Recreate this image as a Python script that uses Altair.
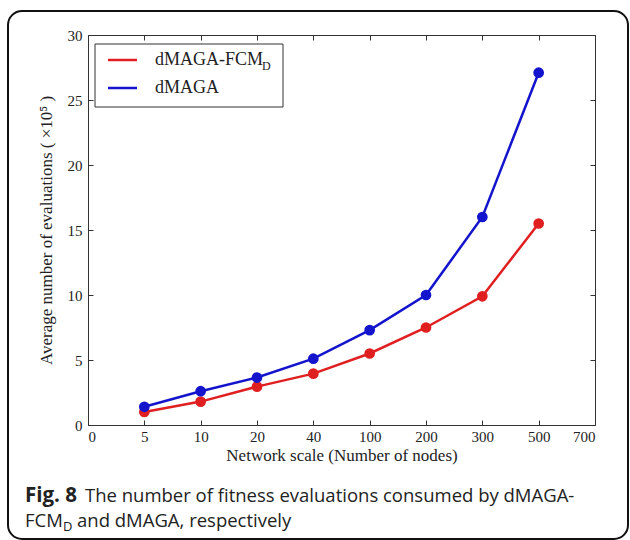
import altair as alt
import pandas as pd

x_labels = ["0", "5", "10", "20", "40", "100", "200", "300", "500", "700"]
x_idx = [1, 2, 3, 4, 5, 6, 7, 8]
fcm_vals = [1.0, 1.8, 2.95, 3.95, 5.5, 7.5, 9.9, 15.5]
dmaga_vals = [1.4, 2.6, 3.65, 5.1, 7.3, 10.0, 16.0, 27.1]
series_names = ["dMAGA-FCM_D", "dMAGA"]
series_colors = ["#e02020", "#1414cc"]
y_ticks = [0, 5, 10, 15, 20, 25, 30]

rows = []
for name, vals in zip(series_names, [fcm_vals, dmaga_vals]):
    for i, v in zip(x_idx, vals):
        rows.append({"series": name, "idx": i, "value": v})
df = pd.DataFrame(rows)

SERIF = "Liberation Serif"
SANS = "Open Sans"
W, H = 507, 390

label_expr = "[" + ",".join("'" + s + "'" for s in x_labels) + "][datum.value]"

xs = alt.Scale(domain=[0, 9], nice=False)
ys = alt.Scale(domain=[0, 30], nice=False)
cs = alt.Scale(domain=series_names, range=series_colors)


def x_axis():
    return alt.Axis(values=list(range(10)), labelExpr=label_expr,
                    title="Network scale (Number of nodes)", offset=-5, tickSize=5,
                    domain=False, grid=False, labelFont=SERIF, labelFontSize=15,
                    labelColor="#222", titleFont=SERIF, titleFontSize=17,
                    titleFontWeight="normal", titleColor="#222", labelPadding=4,
                    titlePadding=3, tickColor="#333")


def y_axis():
    return alt.Axis(values=y_ticks, title="Average number of evaluations ( \u00d710\u2075 )",
                    offset=-5, tickSize=5, domain=False, grid=False, labelFont=SERIF,
                    labelFontSize=15, labelColor="#222", titleFont=SERIF, titleFontSize=17,
                    titleFontWeight="normal", titleColor="#222", labelPadding=6,
                    titlePadding=12, tickColor="#333")


base = alt.Chart(df)
lines = base.mark_line(strokeWidth=2.5).encode(
    x=alt.X("idx:Q", scale=xs, axis=x_axis()),
    y=alt.Y("value:Q", scale=ys, axis=y_axis()),
    color=alt.Color("series:N", scale=cs, legend=None),
    detail="series:N",
)
pts = base.mark_circle(size=115, opacity=1).encode(
    x=alt.X("idx:Q", scale=xs, axis=x_axis()),
    y=alt.Y("value:Q", scale=ys, axis=y_axis()),
    color=alt.Color("series:N", scale=cs, legend=None),
)
data_layer = alt.layer(lines, pts)

mirror = base.mark_point(opacity=0).encode(
    x=alt.X("idx:Q", scale=xs, axis=alt.Axis(orient="top", values=list(range(10)),
            labels=False, title=None, offset=-5, tickSize=5, domain=False, grid=False,
            tickColor="#333")),
    y=alt.Y("value:Q", scale=ys, axis=alt.Axis(orient="right", values=y_ticks,
            labels=False, title=None, offset=-5, tickSize=5, domain=False, grid=False,
            tickColor="#333")),
)

one = alt.Chart(pd.DataFrame({"a": [0]}))

# legend box (plot origin at 88,35)
leg_box = one.mark_rect(fill="white", stroke="#333", strokeWidth=1).encode(
    x=alt.value(7), x2=alt.value(195), y=alt.value(9), y2=alt.value(72))
leg_red = one.mark_rule(color=series_colors[0], strokeWidth=2.5).encode(
    x=alt.value(20), x2=alt.value(49), y=alt.value(25))
leg_blue = one.mark_rule(color=series_colors[1], strokeWidth=2.5).encode(
    x=alt.value(20), x2=alt.value(49), y=alt.value(53))
leg_t1 = one.mark_text(align="left", baseline="middle", font=SERIF, fontSize=18,
                       color="#222").encode(x=alt.value(67), y=alt.value(25),
                                            text=alt.value("dMAGA-FCM"))
leg_t1s = one.mark_text(align="left", baseline="middle", font=SERIF, fontSize=12,
                        color="#222").encode(x=alt.value(174), y=alt.value(31),
                                             text=alt.value("D"))
leg_t2 = one.mark_text(align="left", baseline="middle", font=SERIF, fontSize=18,
                       color="#222").encode(x=alt.value(67), y=alt.value(53),
                                            text=alt.value("dMAGA"))

# caption frame and text
frame = one.mark_rect(fill="transparent", stroke="#111", strokeWidth=2,
                      cornerRadius=14).encode(
    x=alt.value(-80), x2=alt.value(540), y=alt.value(-24), y2=alt.value(504))
cap_b = one.mark_text(align="left", baseline="alphabetic", font=SANS, fontSize=20.5,
                      fontWeight="bold", color="#222").encode(
    x=alt.value(-63), y=alt.value(467), text=alt.value("Fig. 8"))
cap_1 = one.mark_text(align="left", baseline="alphabetic", font=SANS, fontSize=18.5,
                      color="#222").encode(
    x=alt.value(-3), y=alt.value(467),
    text=alt.value("The number of fitness evaluations consumed by dMAGA-"))
cap_2a = one.mark_text(align="left", baseline="alphabetic", font=SANS, fontSize=18.5,
                       color="#222").encode(
    x=alt.value(-63), y=alt.value(492), text=alt.value("FCM"))
cap_2s = one.mark_text(align="left", baseline="alphabetic", font=SANS, fontSize=13,
                       color="#222").encode(
    x=alt.value(-25), y=alt.value(496), text=alt.value("D"))
cap_2b = one.mark_text(align="left", baseline="alphabetic", font=SANS, fontSize=18.5,
                       color="#222").encode(
    x=alt.value(-11), y=alt.value(492), text=alt.value("and dMAGA, respectively"))

chart = alt.layer(
    frame, data_layer, mirror, leg_box, leg_red, leg_blue, leg_t1, leg_t1s, leg_t2,
    cap_b, cap_1, cap_2a, cap_2s, cap_2b,
).resolve_axis(x="independent", y="independent").properties(
    width=W, height=H,
    autosize=alt.AutoSizeParams(type="none"),
    padding={"left": 88, "top": 35, "right": 35, "bottom": 115},
    background="white",
).configure_view(stroke="#333", strokeWidth=1)

chart.save("out.html", embed_options={"renderer": "svg", "actions": False})
